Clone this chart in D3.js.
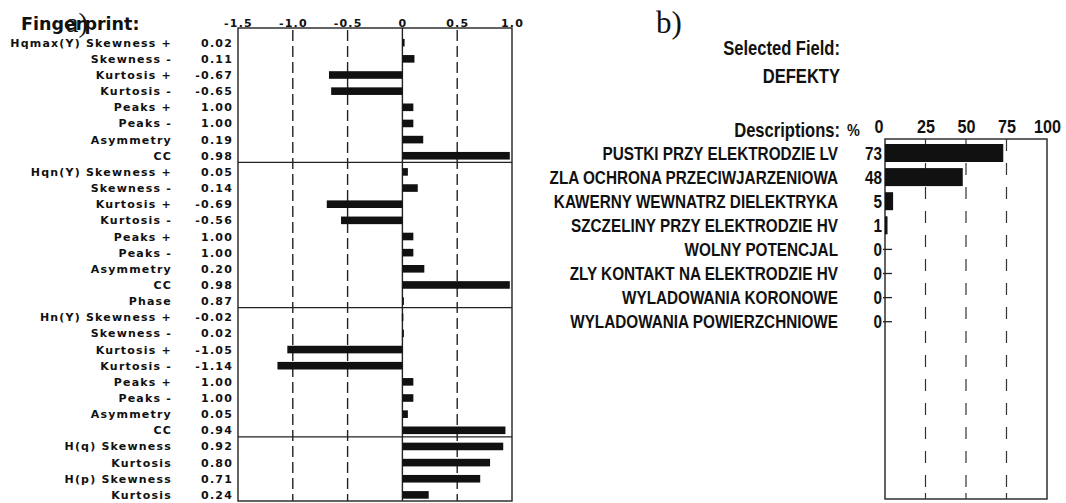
<!DOCTYPE html>
<html>
<head>
<meta charset="utf-8">
<script src="https://cdn.jsdelivr.net/npm/d3@7"></script>
<style>
  html, body { margin: 0; padding: 0; background: #fff; }
  svg { display: block; }
  .lbl { font-family: "DejaVu Sans", sans-serif; font-weight: bold; font-size: 11px; letter-spacing: 1.2px; fill: #111; }
  .nar { font-family: "Liberation Sans", Arial, sans-serif; font-weight: bold; fill: #111; }
  .serif { font-family: "Liberation Serif", "Times New Roman", serif; fill: #111; }
</style>
</head>
<body>
<svg id="chart" width="1066" height="503"></svg>
<script>
// ---- Fingerprint panel (a) ----
const fpLabels = [
  "Hqmax(Y) Skewness +", "Skewness -", "Kurtosis +", "Kurtosis -", "Peaks +", "Peaks -", "Asymmetry", "CC",
  "Hqn(Y) Skewness +", "Skewness -", "Kurtosis +", "Kurtosis -", "Peaks +", "Peaks -", "Asymmetry", "CC", "Phase",
  "Hn(Y) Skewness +", "Skewness -", "Kurtosis +", "Kurtosis -", "Peaks +", "Peaks -", "Asymmetry", "CC",
  "H(q) Skewness", "Kurtosis", "H(p) Skewness", "Kurtosis"
];
const fpValues = [
  0.02, 0.11, -0.67, -0.65, 1.00, 1.00, 0.19, 0.98,
  0.05, 0.14, -0.69, -0.56, 1.00, 1.00, 0.20, 0.98, 0.87,
  -0.02, 0.02, -1.05, -1.14, 1.00, 1.00, 0.05, 0.94,
  0.92, 0.80, 0.71, 0.24
];
// bar lengths as plotted (Peaks and Phase rows are drawn as short markers)
const fpBars = [
  0.02, 0.11, -0.67, -0.65, 0.10, 0.10, 0.19, 0.98,
  0.05, 0.14, -0.69, -0.56, 0.10, 0.10, 0.20, 0.98, 0.01,
  -0.005, 0.01, -1.05, -1.14, 0.10, 0.10, 0.05, 0.94,
  0.92, 0.80, 0.71, 0.24
];
const fpGroupEnds = [7, 16, 24];
const fpTicks = [-1.5, -1.0, -0.5, 0, 0.5, 1.0];

// ---- Selected field panel (b) ----
const defects = [
  "PUSTKI PRZY ELEKTRODZIE LV",
  "ZLA OCHRONA PRZECIWJARZENIOWA",
  "KAWERNY WEWNATRZ DIELEKTRYKA",
  "SZCZELINY PRZY ELEKTRODZIE HV",
  "WOLNY POTENCJAL",
  "ZLY KONTAKT NA ELEKTRODZIE HV",
  "WYLADOWANIA KORONOWE",
  "WYLADOWANIA POWIERZCHNIOWE"
];
const defectPct = [73, 48, 5, 1, 0, 0, 0, 0];
const pctTicks = [0, 25, 50, 75, 100];

const svg = d3.select("#chart");
const NARROW = 0.85; // horizontal squeeze for the condensed lettering

// place a condensed text at (x, y)
function narrow(sel, x, y) {
  sel.attr("x", 0).attr("y", 0)
    .attr("transform", (d, i) => `translate(${typeof x === "function" ? x(d, i) : x},${typeof y === "function" ? y(d, i) : y}) scale(${NARROW},1)`);
}

// ================= panel a =================
const aTop = 28, aBottom = 501;
const xA = d3.scaleLinear().domain([-1.5, 1.0]).range([238, 512]);
const yA = d3.scaleLinear().domain([0, 1]).range([42.7, 42.7 + 16.15]);

svg.append("text").attr("x", 21).attr("y", 30)
  .attr("font-family", "DejaVu Sans, sans-serif").attr("font-weight", "bold")
  .attr("font-size", 17.5).attr("fill", "#111").text("Fingerprint:");
svg.append("text").attr("class", "serif").attr("x", 66).attr("y", 32)
  .attr("font-size", 28).text("a)");

const gA = svg.append("g");
gA.append("rect").attr("x", xA(-1.5)).attr("y", aTop)
  .attr("width", xA(1.0) - xA(-1.5)).attr("height", aBottom - aTop)
  .attr("fill", "none").attr("stroke", "#222").attr("stroke-width", 1.4);

// dashed grid
gA.selectAll("line.grid").data(fpTicks.filter(t => t !== 0 && t !== -1.5 && t !== 1.0))
  .join("line").attr("class", "grid")
  .attr("x1", d => xA(d)).attr("x2", d => xA(d))
  .attr("y1", aTop + 2).attr("y2", aBottom)
  .attr("stroke", "#222").attr("stroke-width", 1.4).attr("stroke-dasharray", "11,5");

// zero line
gA.append("line").attr("x1", xA(0)).attr("x2", xA(0)).attr("y1", aTop).attr("y2", aBottom)
  .attr("stroke", "#222").attr("stroke-width", 1.4);

// group separators
gA.selectAll("line.sep").data(fpGroupEnds).join("line").attr("class", "sep")
  .attr("x1", xA(-1.5)).attr("x2", xA(1.0))
  .attr("y1", d => yA(d + 0.5) - 1.5).attr("y2", d => yA(d + 0.5) - 1.5)
  .attr("stroke", "#222").attr("stroke-width", 1.2);

// top axis
const axA = d3.axisTop(xA).tickValues(fpTicks).tickSize(0)
  .tickFormat(d => d === 0 ? "0" : (d < 0 ? "-" : "") + Math.abs(d).toFixed(1));
const axAg = gA.append("g").attr("transform", `translate(0,${aTop + 2})`).call(axA);
axAg.select(".domain").remove();
axAg.selectAll("text").attr("class", "lbl").attr("font-size", null).attr("font-family", null).attr("fill", null);

// bars
gA.selectAll("rect.bar").data(fpBars).join("rect").attr("class", "bar")
  .attr("x", d => xA(Math.min(0, d)))
  .attr("width", d => Math.max(1.5, Math.abs(xA(d) - xA(0))))
  .attr("y", (d, i) => yA(i) - 3.8).attr("height", 7.6)
  .attr("fill", "#111");

// labels and values
gA.selectAll("text.name").data(fpLabels).join("text").attr("class", "lbl name")
  .attr("x", 172).attr("y", (d, i) => yA(i) + 4).attr("text-anchor", "end").text(d => d);
gA.selectAll("text.val").data(fpValues).join("text").attr("class", "lbl val")
  .attr("x", 233).attr("y", (d, i) => yA(i) + 4).attr("text-anchor", "end")
  .text(d => (d < 0 ? "-" : "") + Math.abs(d).toFixed(2));

// ================= panel b =================
const bTop = 139, bBottom = 499;
const xB = d3.scaleLinear().domain([0, 100]).range([885, 1047]);
const yB = d3.scaleLinear().domain([0, 1]).range([153, 153 + 24.1]);

svg.append("text").attr("class", "serif").attr("x", 656).attr("y", 33)
  .attr("font-size", 31).text("b)");
const heads = [["Selected Field:", 55], ["DEFEKTY", 83], ["Descriptions:", 137]];
svg.selectAll("text.head").data(heads).join("text").attr("class", "nar head")
  .attr("text-anchor", "end").attr("font-size", 19.5).text(d => d[0])
  .call(narrow, 840, d => d[1]);

const gB = svg.append("g");
gB.append("rect").attr("x", xB(0)).attr("y", bTop)
  .attr("width", xB(100) - xB(0)).attr("height", bBottom - bTop)
  .attr("fill", "none").attr("stroke", "#222").attr("stroke-width", 1.4);

gB.selectAll("line.grid").data(pctTicks.slice(1, -1)).join("line").attr("class", "grid")
  .attr("x1", d => xB(d)).attr("x2", d => xB(d))
  .attr("y1", bTop).attr("y2", bBottom - 8)
  .attr("stroke", "#333").attr("stroke-width", 1.2).attr("stroke-dasharray", "12,12");
gB.selectAll("line.btick").data(pctTicks.slice(1, -1)).join("line").attr("class", "btick")
  .attr("x1", d => xB(d)).attr("x2", d => xB(d))
  .attr("y1", bBottom - 6).attr("y2", bBottom)
  .attr("stroke", "#333").attr("stroke-width", 1.2);

const axB = d3.axisTop(xB).tickValues(pctTicks).tickSize(0);
const axBg = gB.append("g").attr("transform", `translate(0,${bTop - 3})`).call(axB);
axBg.select(".domain").remove();
axBg.selectAll("text").attr("class", "nar").attr("font-size", 19)
  .attr("font-family", null).attr("fill", null).attr("dy", 0)
  .attr("transform", `scale(${NARROW},1)`)
  .attr("x", d => 0);
axBg.selectAll(".tick text").filter(d => d === 0).attr("text-anchor", "end").attr("x", -2 / NARROW);
gB.append("text").attr("class", "nar").attr("font-size", 17).text("%")
  .call(narrow, 847, bTop - 3);

gB.selectAll("rect.bar").data(defectPct.filter(d => d > 0)).join("rect").attr("class", "bar")
  .attr("x", xB(0)).attr("width", d => Math.max(2.5, xB(d) - xB(0)))
  .attr("y", (d, i) => yB(i) - 9).attr("height", 18).attr("fill", "#111");
// zero-valued rows are marked with a short inward tick
gB.selectAll("line.zero").data(defectPct.map((d, i) => [d, i]).filter(p => p[0] === 0))
  .join("line").attr("class", "zero")
  .attr("x1", xB(0) - 2).attr("x2", xB(0) + 7)
  .attr("y1", p => yB(p[1])).attr("y2", p => yB(p[1]))
  .attr("stroke", "#222").attr("stroke-width", 1.3);

gB.selectAll("text.name").data(defects).join("text").attr("class", "nar name")
  .attr("text-anchor", "end").attr("font-size", 18).text(d => d)
  .call(narrow, 838, (d, i) => yB(i) + 6.5);
gB.selectAll("text.val").data(defectPct).join("text").attr("class", "nar val")
  .attr("text-anchor", "end").attr("font-size", 18).text(d => d)
  .call(narrow, 882, (d, i) => yB(i) + 6.5);
</script>
</body>
</html>
